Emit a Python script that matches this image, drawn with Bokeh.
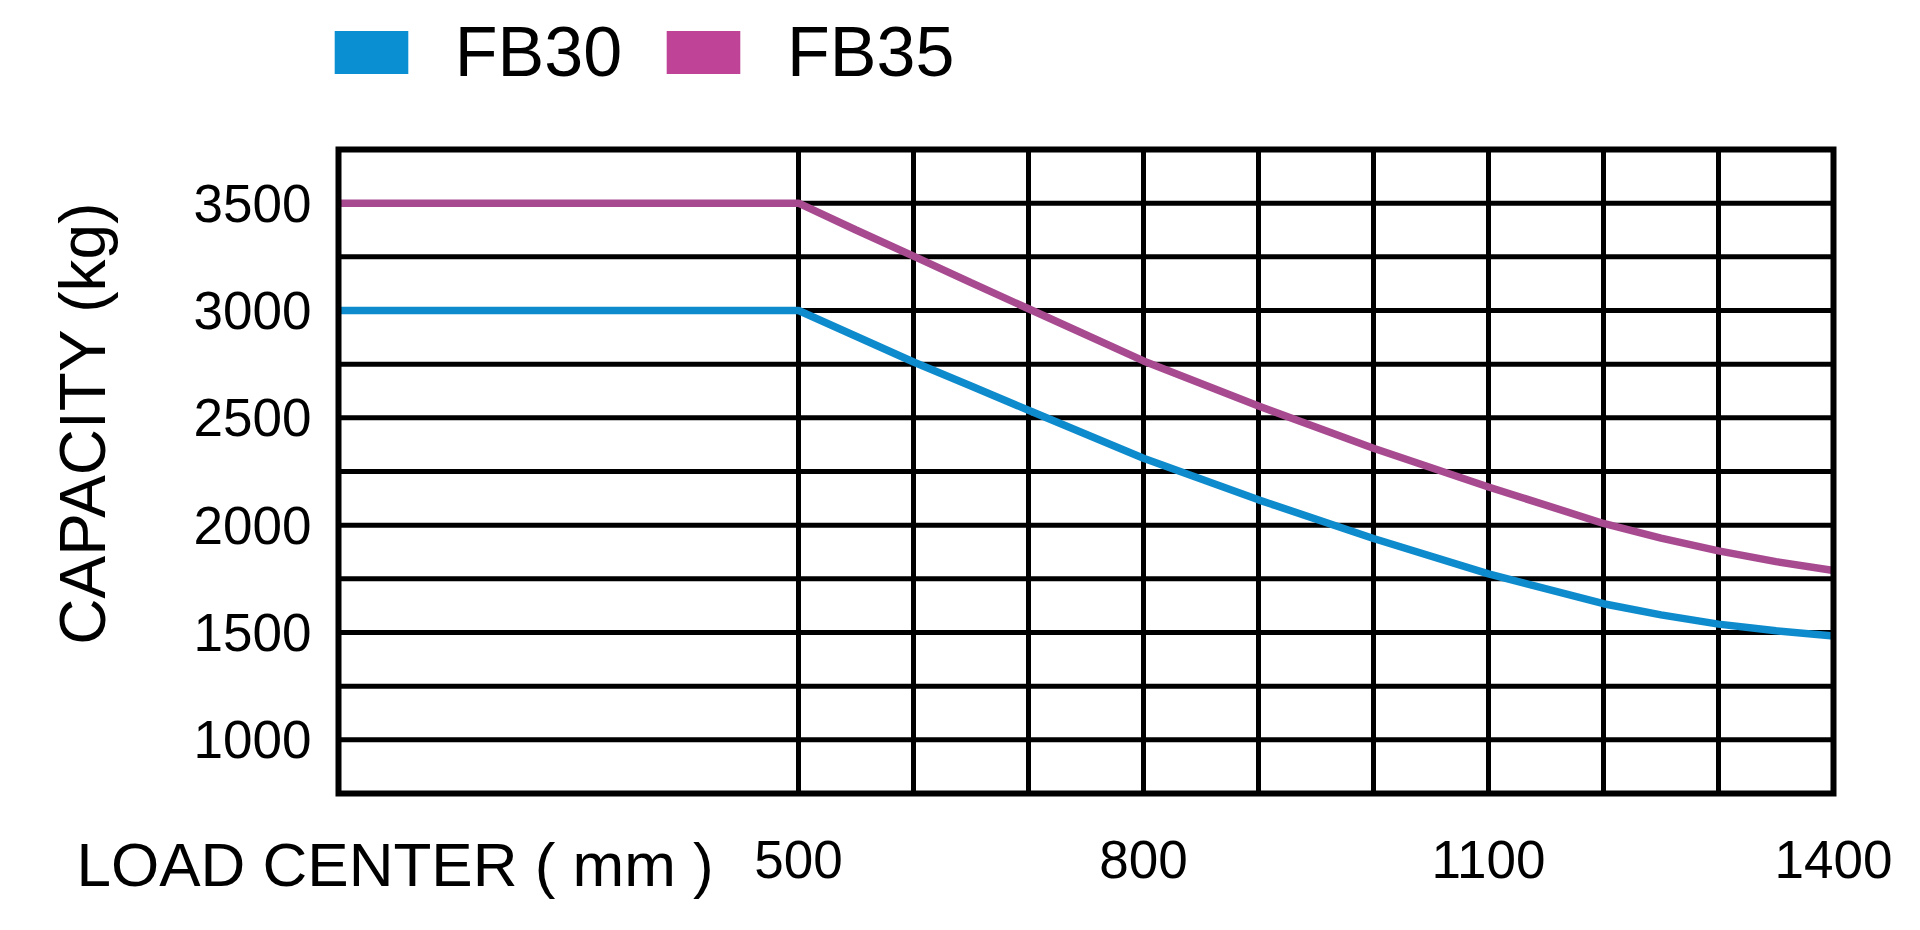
import math
from bokeh.plotting import figure
from bokeh.models import Range1d, FixedTicker, Legend, LegendItem, Label
from bokeh.embed import file_html
from bokeh.resources import INLINE

# ---- data ----
load_center = [100, 500, 550, 600, 650, 700, 800, 900, 1000, 1100, 1200, 1250, 1300, 1350, 1400]
fb30 = [3000, 3000, 2880, 2760, 2648, 2535, 2312, 2118, 1938, 1773, 1634, 1582, 1539, 1508, 1484]
fb35 = [3500, 3500, 3375, 3253, 3130, 3008, 2765, 2555, 2358, 2178, 2008, 1940, 1880, 1830, 1789]

series_names = ["FB30", "FB35"]
x_bounds = [100, 1400]
y_bounds = [750, 3750]
x_tick_labels = [500, 800, 1100, 1400]
x_grid_values = [500, 600, 700, 800, 900, 1000, 1100, 1200, 1300]
y_tick_labels = [1000, 1500, 2000, 2500, 3000, 3500]
y_grid_values = [1000, 1250, 1500, 1750, 2000, 2250, 2500, 2750, 3000, 3250, 3500]

# ---- styling / layout (pixels on the canvas) ----
BLUE_LINE = "#0e8bcc"
PINK_LINE = "#a84a90"
BLUE_KEY = "#0a8fd3"
PINK_KEY = "#bf4397"
FONT = "Liberation Sans"
W, H = 1904, 914
BOX_L, BOX_R, BOX_T, BOX_B = 338, 1833, 149, 793

X_MIN, X_MAX = x_bounds
Y_MIN, Y_MAX = y_bounds
kx = (BOX_R - BOX_L) / (X_MAX - X_MIN)
ky = (BOX_B - BOX_T) / (Y_MAX - Y_MIN)


def px_x(px):
    return X_MIN + (px - BOX_L) / kx


def px_y(py):
    return Y_MAX - (py - BOX_T) / ky


p = figure(width=W, height=H, title=None,
           x_range=Range1d(px_x(0), px_x(W)), y_range=Range1d(px_y(H), px_y(0)),
           output_backend="svg", toolbar_location=None, min_border=0)
p.background_fill_color = "white"
p.border_fill_color = "white"
p.outline_line_color = None
p.xgrid.visible = False
p.ygrid.visible = False

# axes drawn at the box edges
p.xaxis.fixed_location = Y_MIN
p.yaxis.fixed_location = X_MIN
for ax in (p.xaxis, p.yaxis):
    ax.axis_line_color = None
    ax.major_tick_line_color = None
    ax.minor_tick_line_color = None
    ax.major_tick_out = 0
    ax.major_tick_in = 0
    ax.minor_tick_out = 0
    ax.minor_tick_in = 0
    ax.major_label_text_font = FONT
    ax.major_label_text_color = "black"
p.xaxis.ticker = FixedTicker(ticks=x_tick_labels)
p.xaxis.major_label_text_font_size = "53px"
p.xaxis.major_label_standoff = 47
p.yaxis.ticker = FixedTicker(ticks=y_tick_labels)
p.yaxis.major_label_text_font_size = "53px"
p.yaxis.major_label_standoff = 27

# grid lines limited to the box
p.segment(x0=x_grid_values, y0=[Y_MIN] * len(x_grid_values),
          x1=x_grid_values, y1=[Y_MAX] * len(x_grid_values),
          line_color="black", line_width=5)
p.segment(x0=[X_MIN] * len(y_grid_values), y0=y_grid_values,
          x1=[X_MAX] * len(y_grid_values), y1=y_grid_values,
          line_color="black", line_width=5)

# curves
p.line(load_center, fb30, line_color=BLUE_LINE, line_width=7.5)
p.line(load_center, fb35, line_color=PINK_LINE, line_width=7.5)

# box
p.quad(left=[X_MIN], right=[X_MAX], bottom=[Y_MIN], top=[Y_MAX],
       fill_color=None, line_color="black", line_width=6, line_join="miter")

# legend with rectangular swatches
nan = float("nan")
k1 = p.quad(left=[nan], right=[nan], top=[nan], bottom=[nan], fill_color=BLUE_KEY, line_color=None)
k2 = p.quad(left=[nan], right=[nan], top=[nan], bottom=[nan], fill_color=PINK_KEY, line_color=None)
legend = Legend(items=[LegendItem(label=series_names[0], renderers=[k1]),
                       LegendItem(label=series_names[1], renderers=[k2])],
                orientation="horizontal", location=(324.8, 822.5),
                glyph_width=92, glyph_height=54, label_standoff=38, spacing=35,
                padding=0, margin=0, border_line_color=None,
                background_fill_alpha=0,
                label_text_font=FONT, label_text_font_size="70px",
                label_text_color="black")
p.add_layout(legend, "center")

# axis titles
p.add_layout(Label(x=px_x(82.5), y=px_y(422.5), text="CAPACITY (kg)", angle=math.pi / 2,
                   text_align="center", text_baseline="middle",
                   text_font=FONT, text_font_size="64px", text_color="black"))
p.add_layout(Label(x=px_x(76), y=px_y(863.5), text="LOAD CENTER ( mm )",
                   text_align="left", text_baseline="middle",
                   text_font=FONT, text_font_size="62px", text_color="black"))

open("out.html", "w").write(file_html(p, INLINE))
